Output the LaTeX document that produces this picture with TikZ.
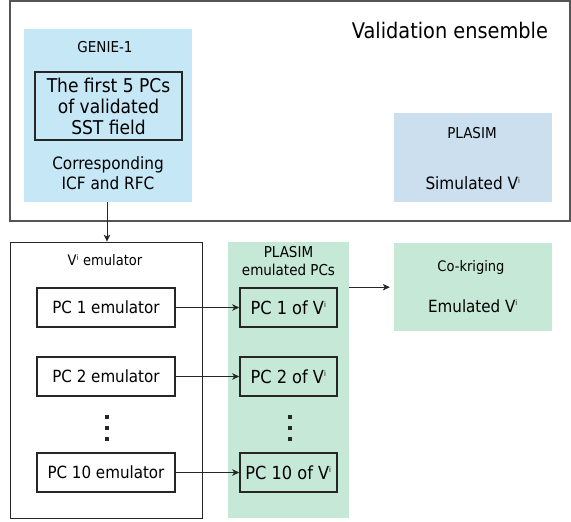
\documentclass[tikz,border=0pt]{standalone}
\usepackage{fontspec}
\setmainfont{DejaVu Sans Condensed}
\usetikzlibrary{arrows.meta}
\definecolor{genieblue}{HTML}{C5E7F6}
\definecolor{plasimblue}{HTML}{CCDFEE}
\definecolor{emugreen}{HTML}{C6E8D7}
\definecolor{framegray}{HTML}{555555}
\tikzset{
  pcbox/.style={draw=black!85,line width=1.6pt,minimum width=138pt,minimum height=39pt,
    inner sep=0pt,font=\fontsize{16.8}{19}\selectfont},
  vbox/.style={pcbox,minimum width=97pt,font=\fontsize{18}{19}\selectfont},
  small/.style={font=\fontsize{14.5}{17}\selectfont,inner sep=0pt},
  mid/.style={font=\fontsize{17}{20.5}\selectfont,inner sep=0pt,align=center},
  arr/.style={-{Stealth[length=7pt,width=6.5pt,inset=2pt]},line width=0.7pt,black!85},
}
\newcommand{\Vi}{V\textsuperscript{\fontsize{7.5}{7.5}\selectfont i}}
\begin{document}
\begin{tikzpicture}[x=1pt,y=-1pt]
\useasboundingbox (0,0) rectangle (571,522);
% top frame: validation ensemble
\draw[framegray,line width=1.3pt] (10,1) rectangle (570,221);
\node[font=\fontsize{21.5}{24}\selectfont,inner sep=0pt] (valtitle) at (450,30) {Validation ensemble};
% GENIE-1 panel
\node[fill=genieblue,minimum width=168pt,minimum height=173pt,inner sep=0pt] (genie) at (108,115.5) {};
\node[small,font=\fontsize{15}{17}\selectfont] (genielab) at (105,47) {GENIE-1};
\node[draw=black!85,line width=1.6pt,minimum width=147pt,minimum height=68pt,inner sep=0pt,
  font=\fontsize{19}{21}\selectfont,align=center] (pcs)
  at (108.5,106) {The first 5 PCs\\of validated\\SST field};
\node[mid] (icf) at (108,173) {Corresponding\\ICF and RFC};
% PLASIM panel
\node[fill=plasimblue,minimum width=158pt,minimum height=89pt,inner sep=0pt] (plasim) at (473,157.5) {};
\node[small,font=\fontsize{15}{17}\selectfont] (plasimlab) at (472,133) {PLASIM};
\node[font=\fontsize{17}{19}\selectfont,inner sep=0pt] (simv) at (473,183) {Simulated \Vi};
% emulator frame
\node[draw=black!85,line width=0.8pt,minimum width=192pt,minimum height=276pt,inner sep=0pt] (emu) at (106,380) {};
\node[small] (emulab) at (105,260) {\Vi\ emulator};
\node[pcbox] (e1) at (106,307.5) {PC 1 emulator};
\node[pcbox] (e2) at (106,376.5) {PC 2 emulator};
\node[pcbox] (e10) at (106,472.5) {PC 10 emulator};
% emulated PCs column
\node[fill=emugreen,minimum width=121pt,minimum height=276pt,inner sep=0pt] (green) at (288.5,380) {};
\node[align=center,inner sep=0pt,font=\fontsize{15}{18.5}\selectfont] (greenlab) at (288.5,261) {PLASIM\\emulated PCs};
\node[vbox] (v1) at (288.5,307.5) {PC 1 of \Vi};
\node[vbox] (v2) at (288.5,376.5) {PC 2 of \Vi};
\node[vbox] (v10) at (288.5,472.5) {PC 10 of \Vi};
% co-kriging panel
\node[fill=emugreen,minimum width=158pt,minimum height=88pt,inner sep=0pt] (cok) at (473,287) {};
\node[small] (coklab) at (471,267) {Co-kriging};
\node[font=\fontsize{16.8}{19}\selectfont,inner sep=0pt] (emv) at (473,306) {Emulated \Vi};
% vertical ellipses
\foreach \yy in {415,426,437}{
  \fill[black!85] (105,\yy) rectangle ++(3.8,3.8);
  \fill[black!85] (288,\yy) rectangle ++(3.8,3.8);
}
% connectors
\draw[black!85,line width=0.8pt,-{Stealth[length=7pt,width=6.5pt,inset=2pt]}] (genie.south -| 107,0) -- (emu.north -| 107,0);
\draw[arr] (e1) -- (v1);
\draw[arr] (e2) -- (v2);
\draw[arr] (e10) -- (v10);
\draw[arr,shorten >=4pt] (green.east |- v1.north) -- (cok.west |- v1.north);
\end{tikzpicture}
\end{document}
